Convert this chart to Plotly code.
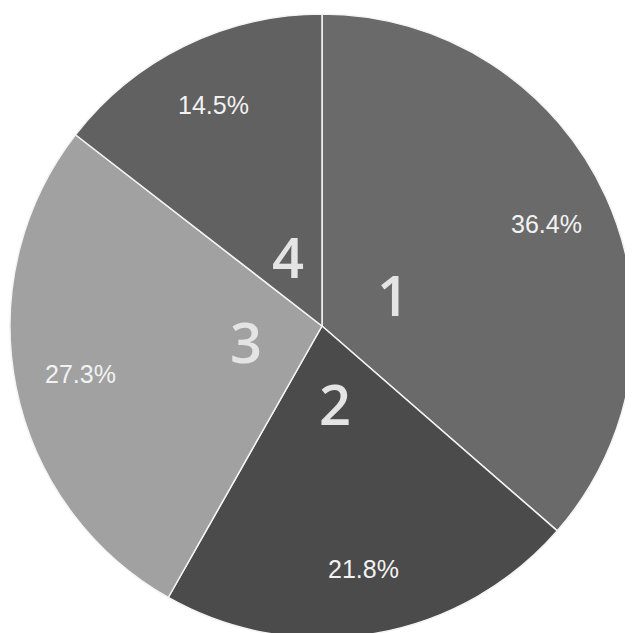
import math
import plotly.graph_objects as go

labels = ["1", "2", "3", "4"]
values = [36.4, 21.8, 27.3, 14.5]
pct_text = ["36.4%", "21.8%", "27.3%", "14.5%"]
colors = ["#6a6a6a", "#4b4b4b", "#a1a1a1", "#616161"]

W, H = 633, 633
ML, MT, MR, MB = 2, 6, 7, 3
PW, PH = W - ML - MR, H - MT - MB
R = min(PW, PH) / 2.0

fig = go.Figure(go.Pie(
    labels=labels, values=values, sort=False, direction="clockwise", rotation=0,
    marker=dict(colors=colors, line=dict(color="#f4f4f4", width=1.5)),
    textinfo="none", hoverinfo="label+percent", showlegend=False,
))

total = sum(values)
cum = 0.0
ann = []
for lab, v, pt in zip(labels, values, pct_text):
    mid = (cum + v / 2.0) / total * 2 * math.pi
    cum += v
    sx, sy = math.sin(mid), math.cos(mid)
    for frac, txt, size, col, fam, wt in [
        (0.25, lab, 56, "#e4e4e4", "Open Sans", 600),
        (0.79, pt, 25, "#f2f2f2", "Liberation Sans, Arial", 400),
    ]:
        ann.append(dict(
            x=0.5 + frac * R * sx / PW, y=0.5 + frac * R * sy / PH,
            xref="paper", yref="paper", text=txt, showarrow=False,
            xanchor="center", yanchor="middle",
            font=dict(size=size, color=col, family=fam, weight=wt),
        ))

fig.update_layout(
    width=W, height=H, margin=dict(l=ML, t=MT, r=MR, b=MB),
    paper_bgcolor="white", plot_bgcolor="white", annotations=ann,
)
fig.write_html("out.html")
